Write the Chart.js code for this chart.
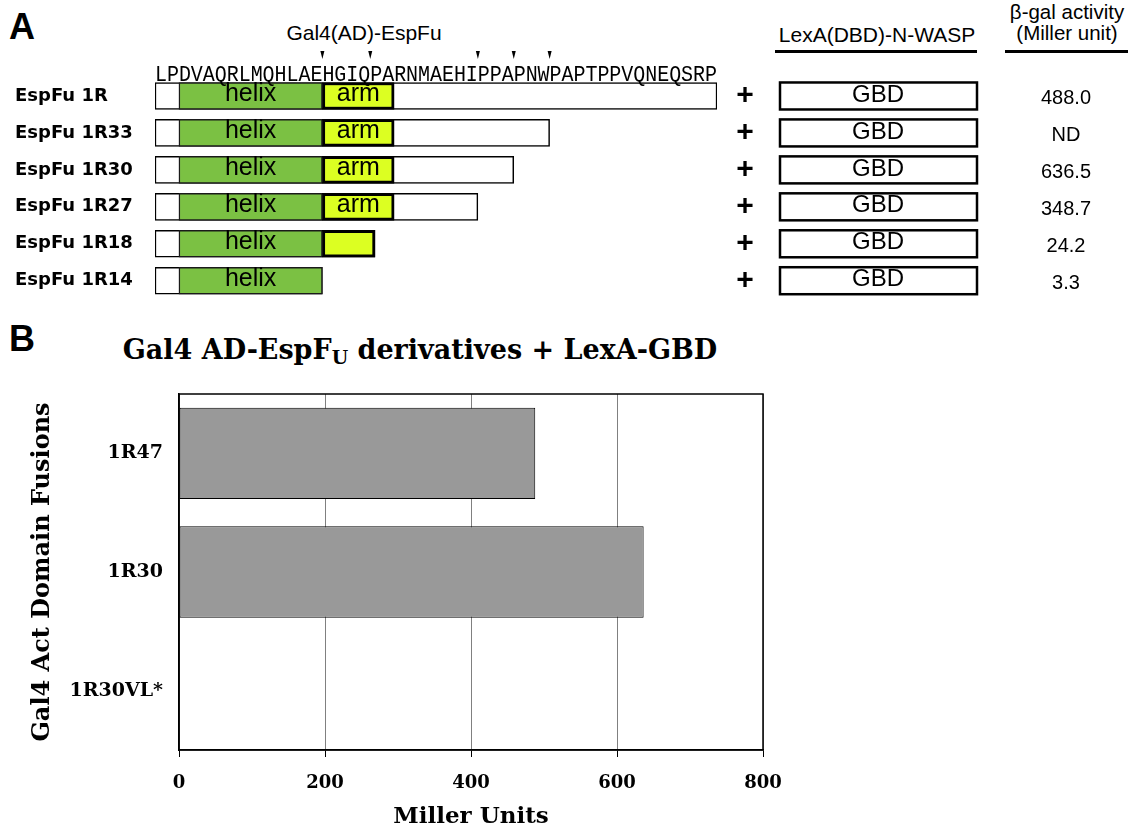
<!DOCTYPE html>
<html>
<head>
<meta charset="utf-8">
<script src="https://cdn.jsdelivr.net/npm/chart.js@4.4.0/dist/chart.umd.min.js"></script>
<style>
html, body { margin: 0; padding: 0; background: #fff; }
body { width: 1132px; height: 831px; position: relative; overflow: hidden; font-family: "Liberation Sans", Arial, sans-serif; color: #000; }
.abs { position: absolute; white-space: nowrap; line-height: 1; }
.c { transform: translateX(-50%); }
.rule { position: absolute; height: 3px; background: #000; }
#mapBox { position: absolute; left: 0; top: 0; width: 1132px; height: 310px; }
#barBox { position: absolute; left: 0; top: 320px; width: 800px; height: 511px; }
</style>
</head>
<body>
<div class="abs" style="left:9px;top:6px;font:bold 36px 'Liberation Sans';">A</div>
<div class="abs c" style="left:364px;top:22px;font-size:21px;">Gal4(AD)-EspFu</div>
<div class="abs c" style="left:877px;top:24px;font-size:21px;">LexA(DBD)-N-WASP</div>
<div class="rule" style="left:775px;top:50px;width:202px;"></div>
<div class="abs c" style="left:1067px;top:2px;font-size:20.5px;">β-gal activity</div>
<div class="abs c" style="left:1067px;top:23px;font-size:20.5px;">(Miller unit)</div>
<div class="rule" style="left:1005px;top:50px;width:123px;"></div>

<div id="mapBox"><canvas id="mapCanvas" width="1132" height="310"></canvas></div>

<div class="abs" style="left:9px;top:318px;font:bold 36px 'Liberation Sans';">B</div>
<div class="abs c" style="left:420px;top:334px;font:bold 27px 'DejaVu Serif';">Gal4 AD-EspF<span style="font-size:0.7em;vertical-align:-0.25em;">U</span> derivatives + LexA-GBD</div>

<div id="barBox"><canvas id="barCanvas" width="800" height="511"></canvas></div>

<script>
// ---- panel A: EspFu truncations (x in residues) ----
const rowLabels = ['EspFu 1R', 'EspFu 1R33', 'EspFu 1R30', 'EspFu 1R27', 'EspFu 1R18', 'EspFu 1R14'];
const fragmentEnd = [47, 33, 30, 27, 18.4, 14];
const helixStart = 2;
const helixEnd = 14;
const armEnd = [20, 20, 20, 20, 18.4, null];
const armText = ['arm', 'arm', 'arm', 'arm', '', ''];
const sequence = 'LPDVAQRLMQHLAEHGIQPARNMAEHIPPAPNWPAPTPPVQNEQSRP';
const cutSites = [14, 18, 27, 30, 33];
const partnerText = 'GBD';
const activityText = ['488.0', 'ND', '636.5', '348.7', '24.2', '3.3'];

// ---- panel B ----
const fusions = ['1R47', '1R30', '1R30VL*'];
const millerUnits = [488.0, 636.5, 0];
const millerMax = 800;
const millerStep = 200;

const mapDecor = {
    id: 'mapDecor',
    afterDatasetsDraw(chart) {
        const {ctx, scales: {x, y}} = chart;
        ctx.save();
        ctx.fillStyle = '#000';
        ctx.textAlign = 'center';
        ctx.textBaseline = 'middle';

        // captions inside the domains
        ctx.font = '25px "Liberation Sans"';
        chart.getDatasetMeta(1).data.forEach(bar => {
            const p = bar.getCenterPoint();
            ctx.fillText('helix', p.x, p.y - 2);
        });
        chart.getDatasetMeta(2).data.forEach((bar, i) => {
            if (!armText[i]) return;
            const p = bar.getCenterPoint();
            ctx.fillText(armText[i], p.x, p.y - 2);
        });

        // residue letters over the map
        ctx.font = '20px "Liberation Mono"';
        ctx.textBaseline = 'alphabetic';
        for (let i = 0; i < sequence.length; i++) {
            ctx.save();
            ctx.translate(x.getPixelForValue(i + 0.5), 81);
            ctx.scale(1, 1.12);
            ctx.fillText(sequence[i], 0, 0);
            ctx.restore();
        }
        // truncation marks
        cutSites.forEach(s => {
            const px = x.getPixelForValue(s);
            ctx.beginPath();
            ctx.moveTo(px - 2, 51);
            ctx.lineTo(px + 2, 51);
            ctx.lineTo(px, 59);
            ctx.closePath();
            ctx.fill();
        });

        // partner + activity columns
        ctx.textBaseline = 'middle';
        rowLabels.forEach((_, i) => {
            const cy = y.getPixelForValue(i);
            ctx.font = 'bold 30px "Liberation Sans"';
            ctx.fillText('+', 745, cy);
            ctx.lineWidth = 2.5;
            ctx.strokeStyle = '#000';
            ctx.strokeRect(780, cy - 13.5, 197, 27);
            ctx.font = '24px "Liberation Sans"';
            ctx.fillText(partnerText, 878, cy - 1);
            ctx.font = '20px "Liberation Sans"';
            ctx.fillText(activityText[i], 1066, cy + 3);
        });
        ctx.restore();
    }
};

new Chart(document.getElementById('mapCanvas'), {
    type: 'bar',
    data: {
        labels: rowLabels,
        datasets: [
            {
                label: 'fragment',
                order: 3,
                data: fragmentEnd.map(e => [0, e]),
                backgroundColor: '#ffffff',
                borderColor: '#000',
                borderWidth: 1.5
            },
            {
                label: 'helix',
                order: 2,
                data: rowLabels.map(() => [helixStart, helixEnd]),
                backgroundColor: '#7bc143',
                borderColor: '#1a1a1a',
                borderWidth: 1.5
            },
            {
                label: 'arm',
                order: 1,
                data: armEnd.map(e => e === null ? null : [helixEnd, e]),
                backgroundColor: '#dcff22',
                borderColor: '#000',
                borderWidth: 3
            }
        ]
    },
    options: {
        indexAxis: 'y',
        responsive: false,
        animation: false,
        layout: {padding: {left: 15, right: 415, top: 77.5, bottom: 10.5}},
        datasets: {bar: {barThickness: 27, borderSkipped: false, grouped: false}},
        plugins: {legend: {display: false}, tooltip: {enabled: false}},
        scales: {
            x: {display: false, min: 0, max: sequence.length},
            y: {
                grid: {display: false},
                border: {display: false},
                ticks: {
                    crossAlign: 'far',
                    color: '#000',
                    padding: 0,
                    font: {family: 'DejaVu Sans', weight: 'bold', size: 18}
                },
                afterFit: s => { s.width = 140; }
            }
        }
    },
    plugins: [mapDecor]
});

const frame = {
    id: 'frame',
    afterDatasetsDraw(chart) {
        const {ctx, chartArea: a} = chart;
        ctx.save();
        ctx.strokeStyle = '#000';
        ctx.lineWidth = 1.5;
        ctx.strokeRect(a.left, a.top, a.right - a.left, a.bottom - a.top);
        ctx.restore();
    }
};

const serif = size => ({family: 'DejaVu Serif', weight: 'bold', size: size});

new Chart(document.getElementById('barCanvas'), {
    type: 'bar',
    data: {
        labels: fusions,
        datasets: [{
            data: millerUnits,
            backgroundColor: '#999999',
            borderColor: '#000',
            borderWidth: 1,
            borderSkipped: false,
            categoryPercentage: 1,
            barPercentage: 0.77
        }]
    },
    options: {
        indexAxis: 'y',
        responsive: false,
        animation: false,
        layout: {padding: {left: 28, top: 74, right: 37, bottom: 0}},
        plugins: {legend: {display: false}, tooltip: {enabled: false}},
        scales: {
            x: {
                min: 0,
                max: millerMax,
                ticks: {stepSize: millerStep, color: '#000', padding: 16, font: serif(18)},
                grid: {color: '#808080', tickColor: '#000', tickLength: 7},
                border: {color: '#000', width: 1.5},
                title: {display: true, text: 'Miller Units', color: '#000', font: serif(23), padding: {top: 0, bottom: 0}},
                afterFit: s => { s.height = 81; }
            },
            y: {
                grid: {display: false},
                border: {color: '#000', width: 1.5},
                ticks: {color: '#000', padding: 8, font: serif(19)},
                title: {display: true, text: 'Gal4 Act Domain Fusions', color: '#000', font: serif(24), padding: {top: 0, bottom: 0}},
                afterFit: s => { s.width = 151; }
            }
        }
    },
    plugins: [frame]
});
</script>
</body>
</html>
